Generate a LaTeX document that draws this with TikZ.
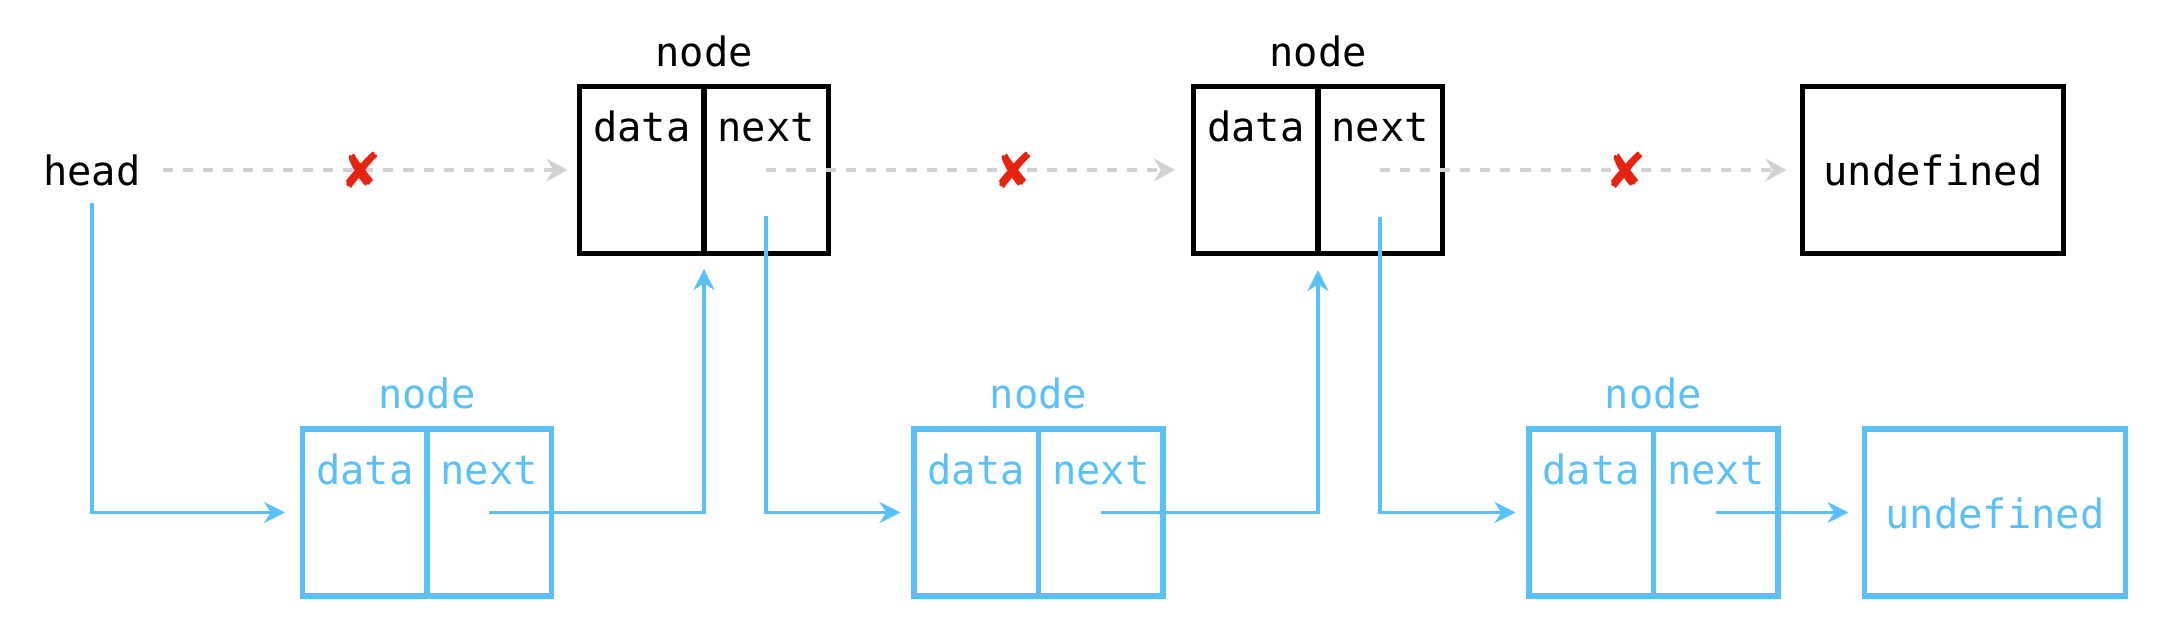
\documentclass[tikz,border=0pt]{standalone}
\usepackage{fontspec}
\setmainfont{DejaVu Sans Mono}
\newfontfamily\symfont{DejaVu Sans}
\usetikzlibrary{positioning,arrows.meta}
\definecolor{lblue}{HTML}{5AC0FA}
\definecolor{lgray}{HTML}{D2D2D2}
\definecolor{xred}{HTML}{E62310}
\tikzset{
  cell/.style={draw,line width=1.6pt,minimum width=1.245cm,inner xsep=0pt,inner ysep=.235cm,
    text height=.32cm,text depth=.88cm,outer sep=0pt},
  undef/.style={draw,line width=1.6pt,minimum width=2.61cm,minimum height=1.67cm,
    text height=.32cm,text depth=0pt,outer sep=0pt},
  old/.style={lgray,line width=1.4pt,dash pattern=on 2.85pt off 2.85pt,
    -{Stealth[length=6pt,width=6.5pt,inset=2pt]}},
  new/.style={lblue,line width=1.1pt,-{Stealth[length=6pt,width=6pt,inset=2pt]}},
  cross/.style={text=xred,font=\symfont\fontsize{14}{14}\selectfont,inner sep=0pt},
}
\begin{document}
\begin{tikzpicture}[font=\fontsize{11.5}{13}\selectfont]
\useasboundingbox (0,0) rectangle (21.82,-6.42);
% old list
\node (head) at (.92,-1.70) {head};
\node[cell] (d1) at (6.4175,-1.70) {data};
\node[cell,right=0pt of d1] (n1) {next};
\node[above=2pt of d1.north east] (l1) {node};
\node[cell] (d2) at (12.5575,-1.70) {data};
\node[cell,right=0pt of d2] (n2) {next};
\node[above=2pt of d2.north east] (l2) {node};
\node[undef] (u) at (19.33,-1.70) {undefined};
% new list
\begin{scope}[lblue]
\node[cell] (bd1) at (3.6475,-5.125) {data};
\node[cell,right=0pt of bd1] (bn1) {next};
\node[above=2pt of bd1.north east] (bl1) {node};
\node[cell] (bd2) at (9.7625,-5.125) {data};
\node[cell,right=0pt of bd2] (bn2) {next};
\node[above=2pt of bd2.north east] (bl2) {node};
\node[cell] (bd3) at (15.9125,-5.125) {data};
\node[cell,right=0pt of bd3] (bn3) {next};
\node[above=2pt of bd3.north east] (bl3) {node};
\node[undef] (bu) at (19.95,-5.125) {undefined};
\end{scope}
\draw[old,shorten <=.1cm,shorten >=.12cm] (head.east) -- (d1.west);
\draw[old,shorten >=.185cm] (n1.center) -- (d2.west);
\draw[old,shorten >=.16cm] (n2.center) -- (u.west);
\node[cross] (x1) at (3.61,-1.70) {✘};
\node[cross] (x2) at (10.14,-1.70) {✘};
\node[cross] (x3) at (16.26,-1.70) {✘};
\draw[new,shorten <=.05cm,shorten >=.175cm] (head.south) |- (bd1.west);
\draw[new,shorten >=.155cm] (bn1.center) -| (d1.south east);
\draw[new,shorten <=.465cm,shorten >=.135cm] (n1.center) |- (bd2.west);
\draw[new,shorten >=.165cm] (bn2.center) -| (d2.south east);
\draw[new,shorten <=.47cm,shorten >=.135cm] (n2.center) |- (bd3.west);
\draw[new,shorten >=.16cm] (bn3.center) -- (bu.west); %undefined
\end{tikzpicture}
\end{document}
